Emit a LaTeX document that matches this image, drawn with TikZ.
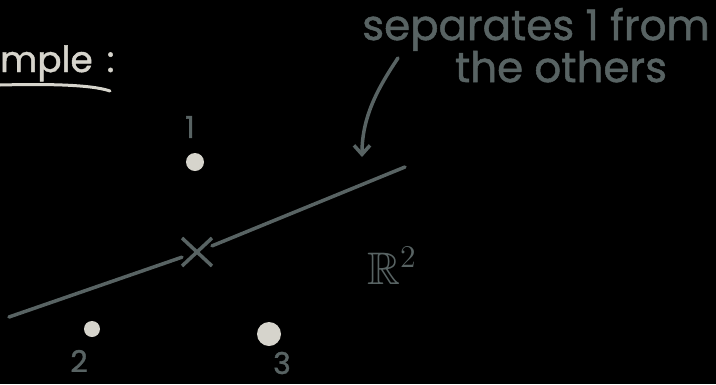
\documentclass[tikz,border=0pt]{standalone}
\usepackage{amssymb}
\usepackage{graphicx}
\usepackage{fontspec}
\newfontfamily\hand[FakeBold=1.2]{Poppins}
\usetikzlibrary{arrows.meta,shapes.misc}
\definecolor{chalk}{HTML}{586363}
\definecolor{pale}{HTML}{D6D4CC}
\tikzset{
  stroke/.style={draw=chalk, line width=3.5pt, line cap=round, line join=round},
  dot/.style={circle, fill=pale, inner sep=0pt},
  lbl/.style={text=chalk, font=\hand\fontsize{30}{32}\selectfont, inner sep=0pt},
  note/.style={text=chalk, font=\hand\fontsize{42}{44}\selectfont, inner sep=0pt, anchor=base},
}
\begin{document}
\begin{tikzpicture}[x=1pt,y=-1pt]
\fill[black] (0,0) rectangle (716,384);
\useasboundingbox (0,0) rectangle (716,384);
% title fragment
\node[text=pale, font=\hand\fontsize{36}{38}\selectfont, anchor=base west, inner sep=0pt] (title) at (0,72) {mple\hspace{14pt}:};
\coordinate (ul1) at (0,85);
\coordinate (ul2) at (110,91);
\draw[draw=pale, line width=3pt, line cap=round] (ul1) .. controls (40,84) and (90,84) .. (ul2);
% points
\node[dot, minimum size=18pt] (p1) at (195,162) {};
\node[dot, minimum size=16pt] (p2) at (92,329) {};
\node[dot, minimum size=24pt] (p3) at (269,334) {};
\node[lbl] (l1) at (190,127) {1};
\node[lbl] (l2) at (79,361) {2};
\node[lbl] (l3) at (282,363) {3};
% separating line
\coordinate (L) at (9,317);
\coordinate (R) at (405,167);
\node[cross out, draw=chalk, line width=3.5pt, minimum width=16pt, minimum height=14pt, outer sep=7pt] (xx) at (197,252) {};
\draw[stroke] (L) -- (xx);
\draw[stroke] (xx) -- (R);
% R^2
\node[text=chalk, inner sep=0pt, scale=2.2] (r2) at (392,266) {\huge$\mathbb{R}^{2}$};
% annotation
\node[note] (t1) at (536,40) {separates 1 from};
\node[note] (t2) at (561,82) {the others};
\coordinate (a0) at (398,58);
\coordinate (a1) at (362,157);
\draw[stroke, -{Straight Barb[length=9pt,width=16pt,line width=3.5pt]}] (a0) .. controls (380,85) and (362,115) .. (a1);
\end{tikzpicture}
\end{document}
